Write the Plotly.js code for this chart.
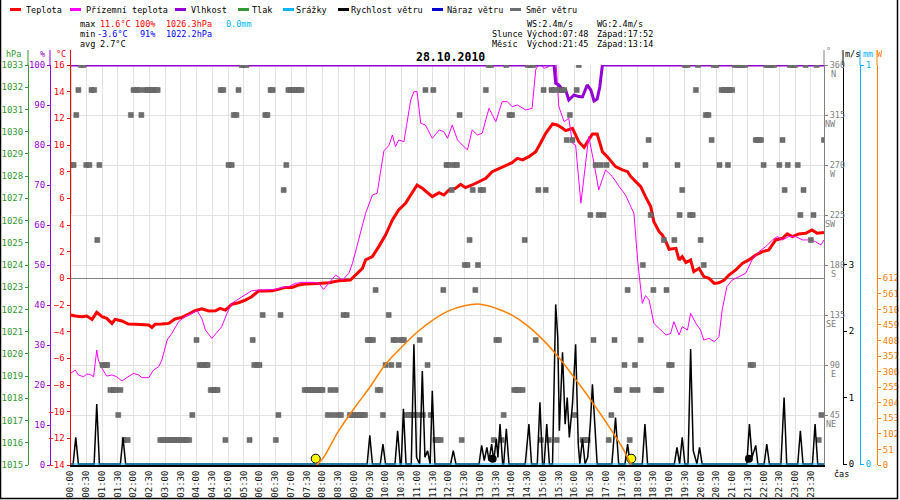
<!DOCTYPE html>
<html><head><meta charset="utf-8">
<script src="https://cdn.plot.ly/plotly-3.0.1.min.js"></script>
<style>html,body{margin:0;padding:0;background:#fff}#chart{width:900px;height:500px}</style>
</head><body><div id="chart"></div>
<script>
// ---- data (time in minutes since midnight) ----
const tempTime = [0,9,22,31,41,50,60,69,79,85,98,110,123,136,149,155,161,174,187,199,212,225,237,250,263,276,285,295,307,320,333,345,358,371,384,396,409,422,434,447,460,472,492,511,533,543,556,562,575,587,600,613,625,638,648,660,670,676,689,702,711,721,733,743,752,765,778,791,803,816,829,841,851,861,873,886,895,905,918,927,937,943,956,968,978,994,1003,1013,1022,1038,1051,1061,1067,1076,1086,1095,1105,1111,1121,1127,1134,1140,1153,1159,1165,1172,1181,1187,1197,1206,1216,1226,1235,1245,1254,1267,1280,1292,1305,1318,1330,1343,1356,1365,1375,1387,1400,1412,1422,1435];
const temp = [-2.75,-2.83,-2.88,-2.83,-3.08,-2.55,-2.88,-3.0,-3.38,-3.08,-3.2,-3.43,-3.45,-3.45,-3.5,-3.68,-3.45,-3.43,-3.38,-3.05,-2.93,-2.68,-2.43,-2.28,-2.45,-2.43,-2.25,-2.38,-1.95,-1.83,-1.63,-1.38,-0.95,-0.95,-0.93,-0.83,-0.68,-0.68,-0.5,-0.43,-0.38,-0.38,-0.33,-0.18,-0.13,0.25,0.75,1.38,1.63,2.38,3.25,4.38,5.13,5.63,6.25,7.0,6.75,6.55,6.13,6.43,6.25,6.63,6.75,7.05,6.8,7.0,7.25,7.5,8.0,8.25,8.5,8.68,9.0,8.88,9.13,9.5,10.13,10.88,11.58,11.5,11.25,11.08,11.25,10.25,9.83,10.83,10.83,9.5,9.13,8.38,8.13,8.0,7.63,7.25,6.88,6.13,5.38,4.25,3.5,3.25,2.75,2.18,2.25,1.38,1.63,1.18,1.38,0.5,0.75,0.13,0,-0.38,-0.33,-0.13,0.25,0.63,1.13,1.38,1.75,2.0,2.13,2.88,3.0,3.33,3.13,3.33,3.38,3.63,3.38,3.43];

const groundTime = [0,9,15,25,31,37,44,47,50,53,60,69,79,88,98,107,120,130,136,149,158,168,174,184,193,206,218,231,241,250,257,269,279,288,298,307,320,333,345,358,371,390,403,415,428,441,460,472,482,492,505,518,530,537,549,562,575,584,590,597,606,613,619,625,635,641,648,654,660,667,676,689,702,711,718,727,737,746,756,765,775,784,797,810,822,832,841,851,867,879,886,892,902,911,924,930,940,949,956,962,972,978,987,997,1006,1019,1032,1045,1057,1067,1073,1080,1086,1089,1095,1102,1111,1121,1134,1143,1149,1159,1165,1175,1181,1191,1200,1206,1216,1226,1235,1241,1250,1260,1273,1286,1298,1311,1324,1337,1346,1356,1368,1381,1394,1407,1419,1429,1435];
const groundTemp = [-7.13,-6.88,-7.25,-7.38,-7.18,-7.2,-7.38,-6.25,-5.38,-6.13,-6.75,-7.33,-7.25,-7.38,-7.7,-7.45,-7.13,-7.25,-7.45,-7.45,-6.88,-6.63,-6.13,-4.63,-4.13,-3.25,-2.88,-2.63,-2.43,-3.0,-3.88,-4.5,-4.0,-3.63,-2.63,-1.88,-1.55,-1.25,-0.93,-0.88,-0.88,-0.83,-0.68,-0.63,-0.38,-0.3,-0.3,-0.33,-0.83,-0.38,0.25,-0.13,0.38,1.13,2.88,4.88,6.25,6.38,7.88,9.58,9.93,10.75,9.88,10.38,10.25,11.75,13.38,14.0,14.0,11.63,11.5,10.5,11.13,11.0,10.5,11.5,10.38,10.0,9.63,11.13,10.75,10.88,12.75,11.75,13.25,13.25,12.88,13.0,12.63,12.75,15.63,16.13,15.75,15.88,16.6,12.88,11.75,12.0,10.13,10.0,5.63,7.63,10.63,8.63,6.63,8.13,7.63,6.88,6.25,5.38,4.88,1.38,-1.13,-1.88,-1.3,-1.63,-3.38,-3.75,-4.25,-4.13,-3.25,-4.25,-3.63,-3.88,-2.63,-3.38,-3.88,-4.63,-4.5,-4.75,-4.38,-2.38,-0.63,-0.13,0.13,0.38,1.38,2.0,2.38,2.88,3.13,2.88,3.13,3.13,2.88,2.88,2.75,2.5,2.88];

const humTime = [0,921,924,930,937,943,949,959,968,975,984,991,997,1003,1008,1013,1435];
const humidity = [100,100,95.4,95,93.75,93.75,91.25,92.5,92.1,92,95,93.75,91,91.5,94.5,100,100];

const pressTime = [0,0];
const pressure = [1026.3,1033.5];

const rainTime = [0,1435];
const rain = [0,0];

const windTime = [0,5,10,15,45,50,55,95,100,105,565,570,575,590,595,600,618,623,628,630,634,639,649,654,659,665,670,675,680,684,685,689,694,724,729,734,778,783,788,793,797,802,806,811,814,818,823,825,830,835,866,873,878,889,894,899,902,907,912,918,924,928,931,937,942,946,950,956,962,967,970,975,980,985,990,994,999,1003,1031,1038,1044,1056,1061,1066,1089,1094,1099,1150,1155,1160,1165,1170,1176,1181,1186,1193,1198,1203,1288,1293,1298,1305,1309,1321,1326,1331,1353,1359,1364,1385,1390,1395,1413,1418,1423,1435];
const windSpeed = [0,0,0.4,0, 0,0.9,0, 0,0.4,0, 0,0.43,0, 0,0.3,0, 0,0.5,0, 0,0.83,0, 0,1.8,0.1, 0,1.4,0.1,0.2,0, 0,1.1,0, 0,0.2,0, 0,0.28,0.05,0.25,0.05,0.3,0.05,0.38,0.1,0.6,0, 0,0.53,0, 0,0.6,0, 0,0.93,0, 0,0.6,0, 0,2.4,1.9,0.5,1.68,0.6,1.0,0.4,0.9,1.8,0.3,0,0.38,0, 0.1,0.6,1.2,0.5,0, 0,0.7,0, 0,0.3,0, 0,0.6,0, 0,0.25,0,0.4,0, 0,1.73,0.2,0,0.25,0, 0,0.6,0.1,0.28,0, 0,0.3,0, 0,1.0,0, 0,0.5,0, 0,0.6,0,0];

const dirTime = [2,6,11,15,20,25,30,36,40,45,51,55,61,67,70,76,82,86,91,95,103,109,115,120,126,131,135,141,147,151,156,162,166,171,176,181,186,191,196,201,206,211,216,221,226,232,240,246,251,257,261,267,272,276,280,286,291,295,301,307,311,316,320,326,330,335,341,347,350,356,360,366,371,375,381,385,391,396,400,406,411,415,420,425,430,435,440,446,451,456,461,466,471,476,480,
490,495,500,505,510,515,520,526,532,537,542,547,552,557,561,566,571,576,581,585,590,595,600,606,611,615,620,625,630,635,640,645,650,655,661,665,671,676,680,686,691,695,700,705,710,716,721,726,731,736,741,745,751,756,760,766,771,776,781,786,791,796,801,806,811,816,821,825,830,836,841,845,850,855,861,865,871,876,881,886,891,896,901,905,911,916,921,926,931,936,940,945,951,956,960,964,968,975,980,985,
990,996,1000,1006,1010,1015,1021,1025,1030,1036,1040,1045,1055,1061,1065,1070,1075,1080,1086,1090,1095,1101,1105,1110,1115,1120,1125,1130,1135,1140,1145,1150,1156,1160,1165,1170,1175,1180,1185,1191,1195,1200,1206,1210,1215,1221,1225,1230,1236,1240,1245,1250,1252,1255,1260,1265,1270,1275,1280,1285,1295,1300,1305,1310,1315,1320,1325,1330,1335,1340,1350,1356,1360,1366,1370,1375,1380,1385,1390,1396,1400,1410,1415,1421,1425,1430,1435];
const dirDeg = [270,270,315,337.5,360,360,270,270,337.5,337.5,202.5,270,90,90,90,67.5,67.5,67.5,45,67.5,22.5,22.5,315,337.5,337.5,337.5,315,337.5,337.5,337.5,337.5,337.5,337.5,22.5,22.5,22.5,22.5,22.5,22.5,22.5,22.5,22.5,22.5,22.5,22.5,45,112.5,90,90,90,90,67.5,67.5,67.5,67.5,337.5,337.5,22.5,270,270,315,315,337.5,360,360,360,22.5,112.5,90,90,90,135,315,315,337.5,337.5,22.5,45,135,247.5,270,337.5,337.5,337.5,337.5,337.5,337.5,67.5,67.5,67.5,67.5,67.5,67.5,67.5,67.5,
45,67.5,45,67.5,45,45,135,135,45,45,45,45,45,45,45,112.5,112.5,112.5,157.5,67.5,67.5,45,90,135,90,112.5,112.5,90,112.5,112.5,45,45,45,45,45,112.5,45,337.5,90,45,337.5,22.5,22.5,22.5,157.5,270,270,247.5,270,270,315,22.5,180,180,202.5,247.5,157.5,180,247.5,247.5,337.5,360,360,22.5,112.5,112.5,22.5,45,360,315,315,67.5,67.5,67.5,67.5,202.5,360,360,360,112.5,247.5,22.5,337.5,247.5,22.5,337.5,337.5,22.5,337.5,337.5,337.5,292.5,315,292.5,45,337.5,360,22.5,22.5,22.5,
225,112.5,270,225,270,225,270,22.5,45,112.5,67.5,67.5,90,157.5,22.5,67.5,90,67.5,112.5,180,270,292.5,225,157.5,67.5,67.5,67.5,202.5,157.5,90,90,202.5,270,225,247.5,360,360,225,225,337.5,360,202.5,180,315,315,292.5,360,360,270,337.5,337.5,337.5,270,337.5,337.5,360,360,360,360,360,90,90,292.5,292.5,292.5,270,360,360,360,360,270,292.5,247.5,270,360,360,360,270,225,247.5,360,202.5,225,360,22.5,45,292.5];

const solarTime = [468,480,510,540,570,600,630,660,690,720,750,780,810,840,870,900,930,960,990,1020,1050,1068];
const solar = [0,20,110,185,255,330,385,435,475,505,522,527,514,492,457,410,352,285,215,140,60,0];

const sunTime = [467,1068];   // sunrise / sunset markers
const sunLevel = [0.08,0.08];
const moonTime = [804,1292];  // moonset / moonrise markers
const moonLevel = [0.08,0.08];

const xTickVals = [0,30,60,90,120,150,180,210,240,270,300,330,360,390,420,450,480,510,540,570,600,630,660,690,720,750,780,810,840,870,900,930,960,990,1020,1050,1080,1110,1140,1170,1200,1230,1260,1290,1320,1350,1380,1410];
const xTickText = ["00:00","00:30","01:00","01:30","02:00","02:30","03:00","03:30","04:00","04:30","05:00","05:30","06:00","06:30","07:00","07:30","08:00","08:30","09:00","09:30","10:00","10:30","11:00","11:30","12:00","12:30","13:00","13:30","14:00","14:30","15:00","15:30","16:00","16:30","17:00","17:30","18:00","18:30","19:00","19:30","20:00","20:30","21:00","21:30","22:00","22:30","23:00","23:30"];
const tempTicks = [-14,-12,-10,-8,-6,-4,-2,0,2,4,6,8,10,12,14,16];
const humTicks = [0,10,20,30,40,50,60,70,80,90,100];
const pressTicks = [1015,1016,1017,1018,1019,1020,1021,1022,1023,1024,1025,1026,1027,1028,1029,1030,1031,1032,1033];
const dirTicks = [45,90,135,180,225,270,315,360];
const dirNames = ["NE","E","SE","S","SW","W","NW","N"];
const windTicks = [0,1,2,3];
const rainTicks = [0,1];
const solarTicks = [0,51,102,153,204,255,306,357,408,459,510,561,612];

// ---- colours ----
const C = {red:'#ff0000', mag:'#ff00ff', pur:'#9400d3', grn:'#339933', cyan:'#00b4ff', blk:'#000000', blue:'#0000cc', gray:'#808080', sq:'#6e6e6e', org:'#ff8000'};
const MONO = 'DejaVu Sans Mono, monospace';

// pixel helpers
const PW = 900, TOP = 65, BOT = 465;
const px = x => x / PW;
const py = y => (BOT - y) / (BOT - TOP);

const traces = [
  {x: rainTime, y: rain, yaxis: 'y6', mode: 'lines', line: {color: C.cyan, width: 1.2}, hoverinfo: 'skip'},
  {x: pressTime, y: pressure, yaxis: 'y3', mode: 'lines', line: {color: C.grn, width: 1.5}},
  {x: humTime, y: humidity, yaxis: 'y2', mode: 'lines', line: {color: C.pur, width: 3}},
  {x: tempTime, y: temp, yaxis: 'y', mode: 'lines', line: {color: C.red, width: 3}},
  {x: groundTime, y: groundTemp, yaxis: 'y', mode: 'lines', line: {color: C.mag, width: 1}},
  {x: solarTime, y: solar, yaxis: 'y7', mode: 'lines', line: {color: C.org, width: 1.5, shape: 'spline'}},
  {x: windTime, y: windSpeed, yaxis: 'y5', mode: 'lines', line: {color: C.blk, width: 1.5}},
  {x: dirTime, y: dirDeg, yaxis: 'y4', mode: 'markers', marker: {symbol: 'square', size: 5, color: C.sq, line: {color: '#5a5a5a', width: 0.5}}},
  {x: sunTime, y: sunLevel, yaxis: 'y5', mode: 'markers', marker: {symbol: 'circle', size: 9, color: '#ffff00', line: {color: '#000', width: 1}}, cliponaxis: false},
  {x: moonTime, y: moonLevel, yaxis: 'y5', mode: 'markers', marker: {symbol: 'circle', size: 8, color: '#000'}, cliponaxis: false}
];

const tf = (c) => ({family: MONO, size: 9, color: c});
const freeY = (pos, side, range, vals, col, extra) => Object.assign({
  overlaying: 'y', anchor: 'free', position: pos, side: side, range: range,
  tickmode: 'array', tickvals: vals, ticks: 'outside', ticklen: 3, tickcolor: col,
  tickfont: tf(col), showline: true, linecolor: col, linewidth: 1,
  showgrid: false, zeroline: false, fixedrange: true
}, extra || {});

const layout = {
  width: 900, height: 500,
  margin: {l: 0, r: 0, t: 65, b: 35, pad: 0},
  paper_bgcolor: '#ffffff', plot_bgcolor: '#ffffff',
  showlegend: false,
  xaxis: {
    domain: [px(70.5), px(824)], range: [0, 1435],
    tickmode: 'array', tickvals: xTickVals, ticktext: xTickText, tickangle: -90,
    tickfont: {family: MONO, size: 9, color: '#111'}, ticks: '',
    showgrid: true, gridcolor: '#e2e2e2', gridwidth: 1, zeroline: false,
    showline: true, linecolor: '#000', linewidth: 2, layer: 'below traces', fixedrange: true
  },
  yaxis: {
    anchor: 'x', side: 'left', range: [-14, 16], tickmode: 'array', tickvals: tempTicks,
    ticks: 'outside', ticklen: 3, tickcolor: C.red, tickfont: tf(C.red),
    showline: true, linecolor: C.red, linewidth: 1, showgrid: false,
    zeroline: true, zerolinecolor: '#808080', zerolinewidth: 1, fixedrange: true
  },
  yaxis2: freeY(px(50), 'left', [0, 100], humTicks, C.pur),
  yaxis3: freeY(px(28), 'left', [1015, 1033], pressTicks, C.grn),
  yaxis4: {
    overlaying: 'y', anchor: 'x', side: 'right', range: [0, 360], tickmode: 'array', tickvals: dirTicks,
    ticks: 'outside', ticklen: 3, tickcolor: C.gray, tickfont: {family: MONO, size: 8.5, color: C.gray},
    showline: true, linecolor: C.gray, linewidth: 1,
    showgrid: true, gridcolor: '#e2e2e2', gridwidth: 1, zeroline: false, fixedrange: true
  },
  // zero of the wind / rain scales lifted one pixel so the baseline is not half clipped
  yaxis5: freeY(px(843), 'right', [-0.015, 6], windTicks, C.blk),
  yaxis6: freeY(px(860), 'right', [-0.0025, 1], rainTicks, C.cyan),
  yaxis7: freeY(px(877), 'right', [0, 1311], solarTicks, C.org),
  shapes: [],
  annotations: []
};

// axis line extensions above the plot
[[28, C.grn], [50, C.pur], [70.5, C.red], [824, C.gray], [843, C.blk], [860, C.cyan], [877, C.org]].forEach(([x, c]) => {
  layout.shapes.push({type: 'line', xref: 'paper', yref: 'paper', x0: px(x), x1: px(x), y0: 1, y1: py(50), line: {color: c, width: 1}});
});
// frame
layout.shapes.push({type: 'line', xref: 'paper', yref: 'paper', x0: px(0.5), x1: px(0.5), y0: py(0), y1: py(499), line: {color: '#000', width: 1.5}});
layout.shapes.push({type: 'line', xref: 'paper', yref: 'paper', x0: px(897.5), x1: px(897.5), y0: py(0), y1: py(499), line: {color: '#000', width: 1.5}});
layout.shapes.push({type: 'line', xref: 'paper', yref: 'paper', x0: px(0), x1: px(898), y0: py(498.5), y1: py(498.5), line: {color: '#000', width: 1.5}});

function txt(x, y, s, col, opt) {
  layout.annotations.push(Object.assign({
    xref: 'paper', yref: 'paper', x: px(x), y: py(y), text: s, showarrow: false,
    xanchor: 'left', yanchor: 'middle', borderpad: 0,
    font: {family: MONO, size: 8.5, color: col}
  }, opt || {}));
}

// legend
const legendItems = [
  ['Teplota', C.red, 10, 25], ['Přízemní teplota', C.mag, 70, 85], ['Vlhkost', C.pur, 175, 190],
  ['Tlak', C.grn, 238, 251], ['Srážky', C.cyan, 283, 295], ['Rychlost větru', C.blk, 338, 350],
  ['Náraz větru', C.blue, 432, 446], ['Směr větru', C.sq, 510, 525]
];
legendItems.forEach(([name, col, dx, tx]) => {
  layout.shapes.push({type: 'line', xref: 'paper', yref: 'paper', x0: px(dx), x1: px(dx + 11), y0: py(9.5), y1: py(9.5), line: {color: col, width: 3}});
  txt(tx, 9.5, name, '#000');
});

// statistics
txt(79, 24, 'max', '#000'); txt(99, 24, '11.6°C', C.red); txt(134, 24, '100%', C.red);
txt(165, 24, '1026.3hPa', C.red); txt(225, 24, '0.0mm', C.cyan);
txt(79, 34, 'min', '#000'); txt(96, 34, '-3.6°C', '#0000ff'); txt(139, 34, '91%', '#0000ff');
txt(165, 34, '1022.2hPa', '#0000ff');
txt(79, 44, 'avg', '#000'); txt(99, 44, '2.7°C', '#000');
txt(526, 24, 'WS:2.4m/s', '#000'); txt(596, 24, 'WG:2.4m/s', '#000');
txt(491, 34, 'Slunce', '#000'); txt(526, 34, 'Východ:07:48', '#000'); txt(596, 34, 'Západ:17:52', '#000');
txt(491, 44, 'Měsíc', '#000'); txt(526, 44, 'Východ:21:45', '#000'); txt(596, 44, 'Západ:13:14', '#000');

// title
txt(450, 57, '<b>28.10.2010</b>', '#000', {xanchor: 'center', font: {family: MONO, size: 11.5, color: '#000'}});

// axis unit titles
txt(13, 54, 'hPa', C.grn, {xanchor: 'center'});
txt(42, 54, '%', C.pur, {xanchor: 'center'});
txt(61.5, 54, '°C', C.red, {xanchor: 'center'});
txt(828, 51, '°', C.gray, {xanchor: 'center'});
txt(852, 54, 'm/s', C.blk, {xanchor: 'center'});
txt(868, 54, 'mm', C.cyan, {xanchor: 'center'});
txt(880, 54, 'W', C.org, {xanchor: 'center'});
txt(833, 474, 'čas', '#000', {font: {family: MONO, size: 8.5, color: '#000'}});

// compass names under direction ticks
dirTicks.forEach((d, i) => {
  layout.annotations.push({xref: 'paper', yref: 'y4', x: px(837), y: d, yshift: -9, text: dirNames[i],
    showarrow: false, xanchor: 'right', yanchor: 'middle', borderpad: 0,
    font: {family: MONO, size: 8.5, color: C.gray}});
});

Plotly.newPlot('chart', traces, layout, {staticPlot: true, displayModeBar: false});
</script></body></html>
